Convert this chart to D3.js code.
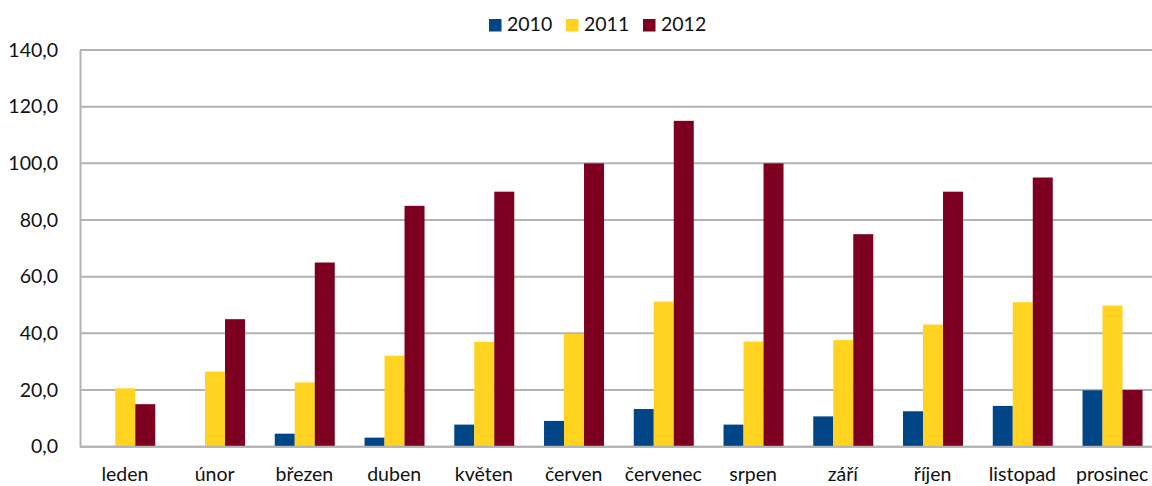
<!DOCTYPE html>
<html>
<head>
<meta charset="utf-8">
<script src="https://cdn.jsdelivr.net/npm/d3@7"></script>
<style>
  html, body { margin: 0; padding: 0; background: #fff; }
  svg { display: block; font-family: Lato, "Open Sans", sans-serif; }
</style>
</head>
<body>
<svg id="chart" width="1152" height="486"></svg>
<script>
// Monthly values per year
const months = ["leden", "únor", "březen", "duben", "květen", "červen", "červenec", "srpen", "září", "říjen", "listopad", "prosinec"];
const series = ["2010", "2011", "2012"];
const values2010 = [0, 0, 4.6, 3.2, 7.8, 9.1, 13.3, 7.8, 10.7, 12.5, 14.4, 19.9];
const values2011 = [20.6, 26.5, 22.7, 32.1, 37.0, 39.8, 51.2, 37.1, 37.6, 43.1, 51.0, 49.8];
const values2012 = [15, 45, 65, 85, 90, 100, 115, 100, 75, 90, 95, 20];
const yTicks = [0, 20, 40, 60, 80, 100, 120, 140];
const colors = ["#004586", "#ffd320", "#7e0021"];

const seriesValues = [values2010, values2011, values2012];
const rows = months.map((m, i) => ({ month: m, vals: series.map((s, k) => ({ key: s, value: seriesValues[k][i] })) }));

const svg = d3.select("#chart");
const plotLeft = 80, plotTop = 50, plotBottom = 446.7, plotRight = 1157, visibleRight = 1152;
const fontSize = 19.5;

const x = d3.scaleBand().domain(months).range([plotLeft, plotRight]).padding(0);
const groupPad = (x.bandwidth() - 60) / 2;
const x1 = d3.scaleBand().domain(series).range([groupPad + 0.4, groupPad + 60.4]).padding(0);
const y = d3.scaleLinear().domain([0, 140]).range([plotBottom, plotTop]);
const color = d3.scaleOrdinal().domain(series).range(colors);

// Horizontal gridlines
svg.append("g")
  .selectAll("line")
  .data(yTicks)
  .join("line")
  .attr("x1", plotLeft).attr("x2", visibleRight)
  .attr("y1", d => y(d)).attr("y2", d => y(d))
  .attr("stroke", "#b3b3b3").attr("stroke-width", 2);

// Y axis
const yAxis = d3.axisLeft(y)
  .tickValues(yTicks)
  .tickSize(0)
  .tickPadding(22)
  .tickFormat(d => d3.format(".1f")(d).replace(".", ","));
const gy = svg.append("g").attr("transform", `translate(${plotLeft},0)`).call(yAxis);
gy.select(".domain").attr("stroke", "#b3b3b3").attr("stroke-width", 2);
gy.selectAll("text").attr("font-size", fontSize).attr("fill", "#111").attr("font-family", "Lato, 'Open Sans', sans-serif");

// Bars
const groups = svg.append("g")
  .selectAll("g")
  .data(rows)
  .join("g")
  .attr("transform", d => `translate(${x(d.month)},0)`);

groups.selectAll("rect")
  .data(d => d.vals.filter(v => v.value > 0))
  .join("rect")
  .attr("x", d => x1(d.key))
  .attr("width", x1.bandwidth())
  .attr("y", d => y(d.value))
  .attr("height", d => y(0) - y(d.value))
  .attr("fill", d => color(d.key));

// Baseline on top of bars
svg.append("line")
  .attr("x1", plotLeft).attr("x2", visibleRight)
  .attr("y1", y(0)).attr("y2", y(0))
  .attr("stroke", "#b3b3b3").attr("stroke-width", 2);

// X axis labels
const xAxis = d3.axisBottom(x).tickSize(0).tickPadding(20);
const gx = svg.append("g").attr("transform", `translate(0,${plotBottom})`).call(xAxis);
gx.select(".domain").remove();
gx.selectAll("text").attr("font-size", fontSize).attr("fill", "#111").attr("font-family", "Lato, 'Open Sans', sans-serif");

// Legend
const legendX = [489, 566, 643];
const legend = svg.append("g")
  .selectAll("g")
  .data(series)
  .join("g")
  .attr("transform", (d, i) => `translate(${legendX[i]},19)`);
legend.append("rect").attr("width", 12.5).attr("height", 12.5).attr("fill", d => color(d));
legend.append("text")
  .attr("x", 18).attr("y", 12)
  .attr("font-size", fontSize).attr("fill", "#111")
  .text(d => d);
</script>
</body>
</html>
